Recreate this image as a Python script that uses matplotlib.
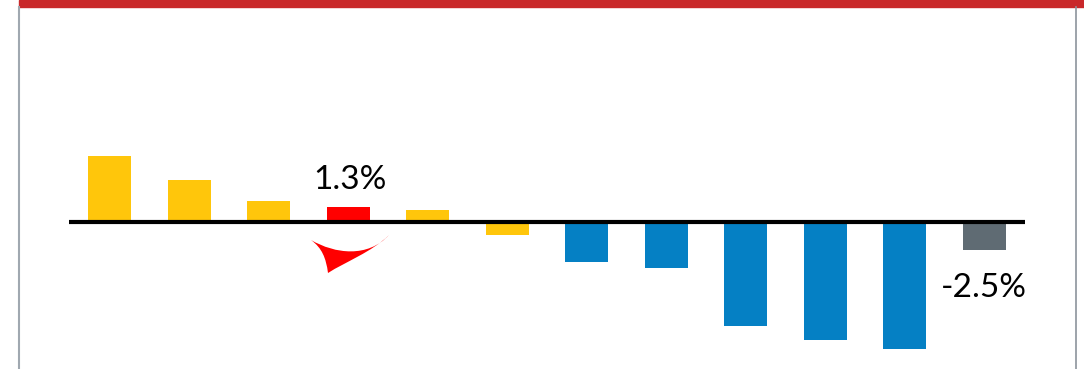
import matplotlib.pyplot as plt
from matplotlib.patches import Rectangle, PathPatch
from matplotlib.path import Path
from matplotlib.lines import Line2D
import matplotlib.transforms as mtransforms

plt.rcParams['font.family'] = ['Lato', 'DejaVu Sans']

# values (%)
values = [5.8, 3.7, 1.9, 1.3, 1.1, -1.15, -3.5, -4.1, -9.2, -10.4, -11.2, -2.5]
colors = ['#FFC60B', '#FFC60B', '#FFC60B', '#FF0000', '#FFC60B', '#FFC60B',
          '#0580C4', '#0580C4', '#0580C4', '#0580C4', '#0580C4', '#5F6B73']
labels = {3: '1.3%', 11: '-2.5%'}

W, H = 1084, 369
fig = plt.figure(figsize=(W / 100, H / 100), dpi=100)
ax = fig.add_axes([0, 0, 1, 1])
ax.axis('off')

# pixel layout: bar i centred at 109.5 + 79.5*i, zero at y=222, 11.3 px per %
x0, dx, y0, sy = 109.5, 79.5, 222, 11.3
ax.set_xlim(-x0 / dx, (W - x0) / dx)
ax.set_ylim(-(H - y0) / sy, y0 / sy)

xs = list(range(len(values)))
ax.bar(xs, values, width=43 / dx, color=colors, zorder=2)
ax.plot([(69 - x0) / dx, (1025 - x0) / dx], [0, 0], color='black', lw=3, zorder=3,
        solid_capstyle='butt')

ax.text(3 + 0.03, 3.75, labels[3], ha='center', va='center', fontsize=24)
ax.text(11, -5.85, labels[11], ha='center', va='center', fontsize=24)

# frame: red band on top, grey side rules
pix = mtransforms.Affine2D().scale(1 / W, -1 / H).translate(0, 1) + fig.transFigure
fig.add_artist(Rectangle((19, 0), W - 19, 7, color='#C9282A', transform=pix))
fig.add_artist(Line2D([19, 19], [7, H], color='#A0A8B0', lw=1.5, transform=pix))
fig.add_artist(Line2D([1076, 1076], [7, H], color='#8C949C', lw=1.2, transform=pix))

# red swoosh under the highlighted bar
verts = [(311, 240), (335, 254), (368, 258), (389, 235),
         (372, 252), (345, 262), (328, 273),
         (326, 258), (322, 248), (311, 240)]
codes = [Path.MOVETO, Path.CURVE4, Path.CURVE4, Path.CURVE4,
         Path.CURVE4, Path.CURVE4, Path.CURVE4,
         Path.CURVE4, Path.CURVE4, Path.CURVE4]
fig.add_artist(PathPatch(Path(verts, codes), facecolor='#FF0000', edgecolor='none',
                         transform=pix))

fig.savefig('out.png', dpi=100)
